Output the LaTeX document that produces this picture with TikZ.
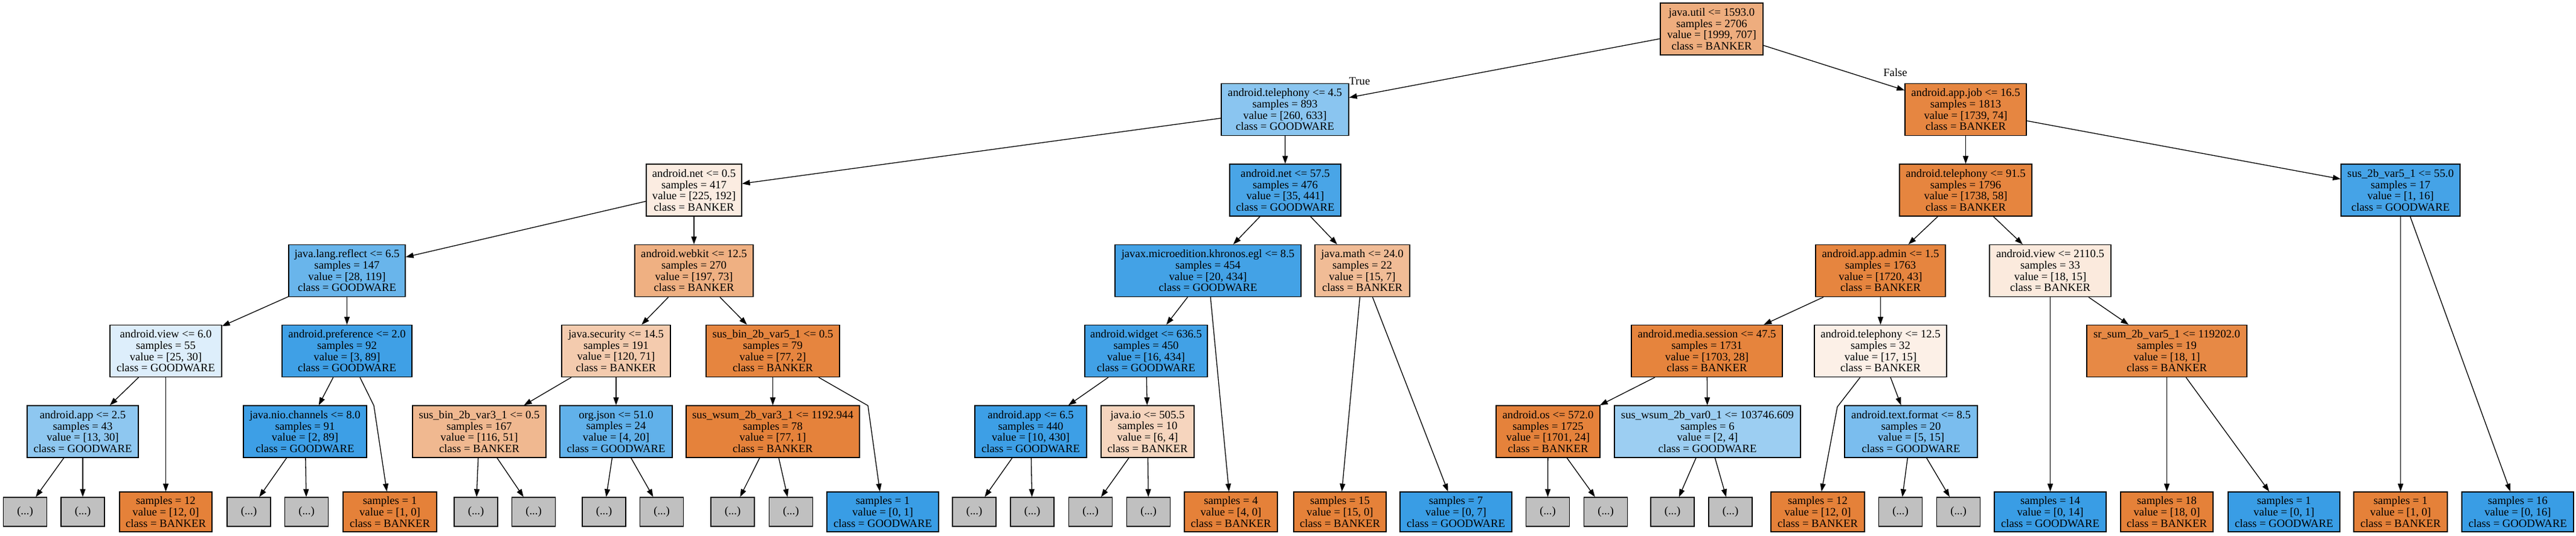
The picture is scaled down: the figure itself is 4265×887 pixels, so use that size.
\documentclass[tikz,border=0pt]{standalone}
\usepackage{fontspec}
\usetikzlibrary{arrows.meta}
\newfontfamily\dtfont{Liberation Serif}
\definecolor{bk}{RGB}{229,129,57}
\definecolor{gw}{RGB}{57,157,229}
\definecolor{gy}{RGB}{192,192,192}
\tikzset{
  tn/.style={draw=black, line width=1.3pt, align=center, inner sep=0pt,
    font=\dtfont\fontsize{18.67pt}{18.67pt}\selectfont, minimum height=86pt},
  lf/.style={tn, minimum height=66pt},
  gn/.style={tn, fill=gy, minimum width=72pt, minimum height=48pt},
  lbl/.style={inner sep=0pt, font=\dtfont\fontsize{18.67pt}{18.67pt}\selectfont},
  arr/.style={-{Triangle[length=13pt,width=9pt]}, line width=1.3pt}
}
\begin{document}
\begin{tikzpicture}[x=1pt,y=-1pt]
\useasboundingbox (0,0) rectangle (4265,887);
% level 0
\node[tn, fill=bk!65, minimum width=170pt] (n0) at (2834,48) {java.util <= 1593.0\\samples = 2706\\value = [1999, 707]\\class = BANKER};
% level 1
\node[tn, fill=gw!59, minimum width=211pt] (n1) at (2127.5,181.5) {android.telephony <= 4.5\\samples = 893\\value = [260, 633]\\class = GOODWARE};
\node[tn, fill=bk!96, minimum width=201pt] (n2) at (3254.5,181.5) {android.app.job <= 16.5\\samples = 1813\\value = [1739, 74]\\class = BANKER};
% level 2
\node[tn, fill=bk!15, minimum width=158pt] (n3) at (1149,315) {android.net <= 0.5\\samples = 417\\value = [225, 192]\\class = BANKER};
\node[tn, fill=gw!92, minimum width=184pt] (n4) at (2128,315) {android.net <= 57.5\\samples = 476\\value = [35, 441]\\class = GOODWARE};
\node[tn, fill=bk!97, minimum width=219pt] (n5) at (3254.5,315) {android.telephony <= 91.5\\samples = 1796\\value = [1738, 58]\\class = BANKER};
\node[tn, fill=gw!94, minimum width=197pt] (n6) at (3974.5,315) {sus\_2b\_var5\_1 <= 55.0\\samples = 17\\value = [1, 16]\\class = GOODWARE};
% level 3
\node[tn, fill=gw!76, minimum width=193pt] (n7) at (574.5,448.5) {java.lang.reflect <= 6.5\\samples = 147\\value = [28, 119]\\class = GOODWARE};
\node[tn, fill=bk!63, minimum width=196pt] (n8) at (1149,448.5) {android.webkit <= 12.5\\samples = 270\\value = [197, 73]\\class = BANKER};
\node[tn, fill=gw!95, minimum width=308pt] (n9) at (2000,448.5) {javax.microedition.khronos.egl <= 8.5\\samples = 454\\value = [20, 434]\\class = GOODWARE};
\node[tn, fill=bk!53, minimum width=157pt] (n10) at (2255.5,448.5) {java.math <= 24.0\\samples = 22\\value = [15, 7]\\class = BANKER};
\node[tn, fill=bk!97, minimum width=215pt] (n11) at (3113.5,448.5) {android.app.admin <= 1.5\\samples = 1763\\value = [1720, 43]\\class = BANKER};
\node[tn, fill=bk!17, minimum width=201pt] (n12) at (3394.5,448.5) {android.view <= 2110.5\\samples = 33\\value = [18, 15]\\class = BANKER};
% level 4
\node[tn, fill=gw!17, minimum width=185pt] (n13) at (274.5,581.5) {android.view <= 6.0\\samples = 55\\value = [25, 30]\\class = GOODWARE};
\node[tn, fill=gw!97, minimum width=215pt] (n14) at (574.5,581.5) {android.preference <= 2.0\\samples = 92\\value = [3, 89]\\class = GOODWARE};
\node[tn, fill=bk!41, minimum width=180pt] (n15) at (1020,581.5) {java.security <= 14.5\\samples = 191\\value = [120, 71]\\class = BANKER};
\node[tn, fill=bk!97, minimum width=221pt] (n16) at (1279.5,581.5) {sus\_bin\_2b\_var5\_1 <= 0.5\\samples = 79\\value = [77, 2]\\class = BANKER};
\node[tn, fill=gw!96, minimum width=203pt] (n17) at (1897.5,581.5) {android.widget <= 636.5\\samples = 450\\value = [16, 434]\\class = GOODWARE};
\node[tn, fill=bk!98, minimum width=250pt] (n18) at (2826,581.5) {android.media.session <= 47.5\\samples = 1731\\value = [1703, 28]\\class = BANKER};
\node[tn, fill=bk!12, minimum width=219pt] (n19) at (3113.5,581.5) {android.telephony <= 12.5\\samples = 32\\value = [17, 15]\\class = BANKER};
\node[tn, fill=bk!94, minimum width=265pt] (n20) at (3587.5,581.5) {sr\_sum\_2b\_var5\_1 <= 119202.0\\samples = 19\\value = [18, 1]\\class = BANKER};
% level 5
\node[tn, fill=gw!57, minimum width=184pt] (n21) at (137,715) {android.app <= 2.5\\samples = 43\\value = [13, 30]\\class = GOODWARE};
\node[tn, fill=gw!98, minimum width=204pt] (n22) at (505,715) {java.nio.channels <= 8.0\\samples = 91\\value = [2, 89]\\class = GOODWARE};
\node[tn, fill=bk!56, minimum width=221pt] (n23) at (793.5,715) {sus\_bin\_2b\_var3\_1 <= 0.5\\samples = 167\\value = [116, 51]\\class = BANKER};
\node[tn, fill=gw!80, minimum width=186pt] (n24) at (1020,715) {org.json <= 51.0\\samples = 24\\value = [4, 20]\\class = GOODWARE};
\node[tn, fill=bk!99, minimum width=287pt] (n25) at (1279.5,715) {sus\_wsum\_2b\_var3\_1 <= 1192.944\\samples = 78\\value = [77, 1]\\class = BANKER};
\node[tn, fill=gw!98, minimum width=185pt] (n26) at (1706.5,715) {android.app <= 6.5\\samples = 440\\value = [10, 430]\\class = GOODWARE};
\node[tn, fill=bk!33, minimum width=154pt] (n27) at (1900,715) {java.io <= 505.5\\samples = 10\\value = [6, 4]\\class = BANKER};
\node[tn, fill=bk!99, minimum width=172pt] (n28) at (2563,715) {android.os <= 572.0\\samples = 1725\\value = [1701, 24]\\class = BANKER};
\node[tn, fill=gw!50, minimum width=308pt] (n29) at (2827,715) {sus\_wsum\_2b\_var0\_1 <= 103746.609\\samples = 6\\value = [2, 4]\\class = GOODWARE};
\node[tn, fill=gw!67, minimum width=220pt] (n30) at (3164,715) {android.text.format <= 8.5\\samples = 20\\value = [5, 15]\\class = GOODWARE};
% level 6 leaves
\node[lf, fill=bk, minimum width=153pt] (l1) at (274.5,848) {samples = 12\\value = [12, 0]\\class = BANKER};
\node[lf, fill=bk, minimum width=155pt] (l2) at (645.5,848) {samples = 1\\value = [1, 0]\\class = BANKER};
\node[lf, fill=gw, minimum width=185pt] (l3) at (1461.5,848) {samples = 1\\value = [0, 1]\\class = GOODWARE};
\node[lf, fill=bk, minimum width=154pt] (l4) at (2038,848) {samples = 4\\value = [4, 0]\\class = BANKER};
\node[lf, fill=bk, minimum width=153pt] (l5) at (2218.5,848) {samples = 15\\value = [15, 0]\\class = BANKER};
\node[lf, fill=gw, minimum width=185pt] (l6) at (2410.5,848) {samples = 7\\value = [0, 7]\\class = GOODWARE};
\node[lf, fill=bk, minimum width=155pt] (l7) at (3009.5,848) {samples = 12\\value = [12, 0]\\class = BANKER};
\node[lf, fill=gw, minimum width=185pt] (l8) at (3394.5,848) {samples = 14\\value = [0, 14]\\class = GOODWARE};
\node[lf, fill=bk, minimum width=153pt] (l9) at (3587.5,848) {samples = 18\\value = [18, 0]\\class = BANKER};
\node[lf, fill=gw, minimum width=185pt] (l10) at (3781.5,848) {samples = 1\\value = [0, 1]\\class = GOODWARE};
\node[lf, fill=bk, minimum width=155pt] (l11) at (3974.5,848) {samples = 1\\value = [1, 0]\\class = BANKER};
\node[lf, fill=gw, minimum width=185pt] (l12) at (4168.5,848) {samples = 16\\value = [0, 16]\\class = GOODWARE};
% truncated subtrees
\foreach \i/\x in {1/41.5,2/137,3/412,4/507.5,5/788,6/883.5,7/1000,8/1095.5,9/1213,10/1309.5,
                   11/1613,12/1709,13/1805.5,14/1901.5,15/2562.5,16/2658.5,17/2769,18/2865,19/3146.5,20/3242.5}
  \node[gn] (g\i) at (\x,848) {(...)};
% edge labels
\node[lbl] (tlab) at (2251,134) {True};
\node[lbl] (flab) at (3138,120) {False};
% bend points
\coordinate (b1) at (619,672);
\coordinate (b2) at (1437,672);
\coordinate (b3) at (3042,674);
% edges
\foreach \a/\b in {n0/n1,n0/n2,n1/n3,n1/n4,n2/n5,n2/n6,n3/n7,n3/n8,n4/n9,n4/n10,n5/n11,n5/n12,
  n6/l11,n6/l12,n7/n13,n7/n14,n8/n15,n8/n16,n9/n17,n9/l4,n10/l5,n10/l6,n11/n18,n11/n19,
  n12/l8,n12/n20,n13/n21,n13/l1,n14/n22,n15/n23,n15/n24,n16/n25,n17/n26,n17/n27,n18/n28,n18/n29,
  n19/n30,n20/l9,n20/l10,
  n21/g1,n21/g2,n22/g3,n22/g4,n23/g5,n23/g6,n24/g7,n24/g8,n25/g9,n25/g10,n26/g11,n26/g12,
  n27/g13,n27/g14,n28/g15,n28/g16,n29/g17,n29/g18,n30/g19,n30/g20}
  \draw[arr] (\a) -- (\b);
\draw[arr] (n14) -- (b1) -- (l2);
\draw[arr] (n16) -- (b2) -- (l3);
\draw[arr] (n19) -- (b3) -- (l7);
\end{tikzpicture}
\end{document}
